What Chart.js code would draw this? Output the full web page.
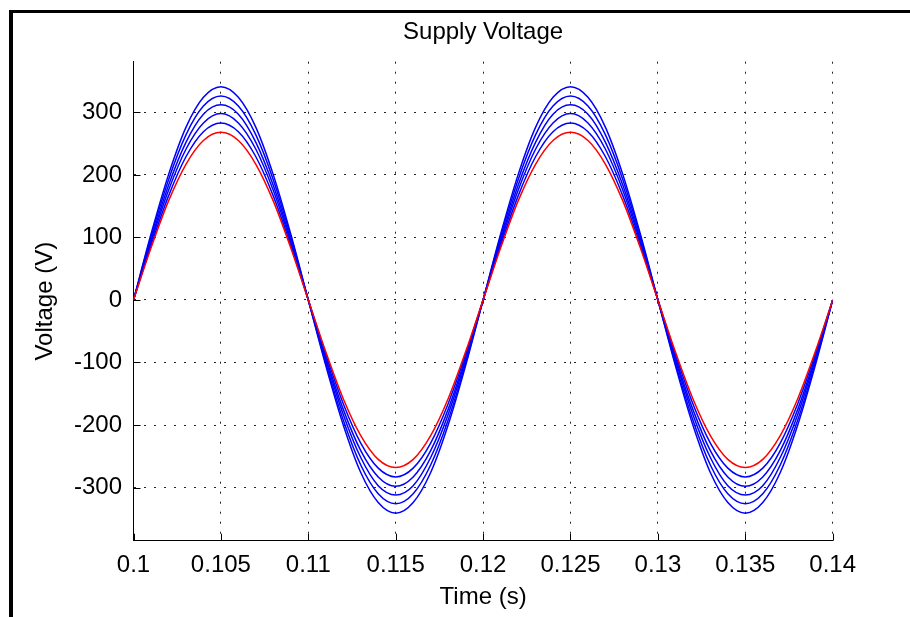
<!DOCTYPE html>
<html>
<head>
<meta charset="utf-8">
<title>Supply Voltage</title>
<script src="https://cdn.jsdelivr.net/npm/chart.js@4/dist/chart.umd.min.js"></script>
<style>
  html, body { margin: 0; padding: 0; background: #fff; }
  #wrap { position: relative; width: 910px; height: 617px; overflow: hidden; }
  #frame { position: absolute; left: 9px; top: 10px; right: 0; bottom: -10px;
           border-left: 4px solid #000; border-top: 3px solid #000; }
  #chart { position: absolute; left: 0; top: 0; }
</style>
</head>
<body>
<div id="wrap">
  <div id="frame"></div>
  <canvas id="chart" width="910" height="617"></canvas>
</div>
<script>
// time samples (s)
const timeS = [0.100, 0.101, 0.102, 0.103, 0.104, 0.105, 0.106, 0.107, 0.108, 0.109,
               0.110, 0.111, 0.112, 0.113, 0.114, 0.115, 0.116, 0.117, 0.118, 0.119,
               0.120, 0.121, 0.122, 0.123, 0.124, 0.125, 0.126, 0.127, 0.128, 0.129,
               0.130, 0.131, 0.132, 0.133, 0.134, 0.135, 0.136, 0.137, 0.138, 0.139, 0.140];

// supply voltages (V)
const vRed = [0, 83, 158, 217, 255, 268, 255, 217, 158, 83, 0, -83, -158, -217, -255, -268, -255, -217, -158, -83,
              0, 83, 158, 217, 255, 268, 255, 217, 158, 83, 0, -83, -158, -217, -255, -268, -255, -217, -158, -83, 0];
const vBlue1 = [0, 87, 166, 229, 269, 283, 269, 229, 166, 87, 0, -87, -166, -229, -269, -283, -269, -229, -166, -87,
                0, 87, 166, 229, 269, 283, 269, 229, 166, 87, 0, -87, -166, -229, -269, -283, -269, -229, -166, -87, 0];
const vBlue2 = [0, 92, 175, 241, 283, 298, 283, 241, 175, 92, 0, -92, -175, -241, -283, -298, -283, -241, -175, -92,
                0, 92, 175, 241, 283, 298, 283, 241, 175, 92, 0, -92, -175, -241, -283, -298, -283, -241, -175, -92, 0];
const vBlue3 = [0, 96, 183, 252, 297, 312, 297, 252, 183, 96, 0, -96, -183, -252, -297, -312, -297, -252, -183, -96,
                0, 96, 183, 252, 297, 312, 297, 252, 183, 96, 0, -96, -183, -252, -297, -312, -297, -252, -183, -96, 0];
const vBlue4 = [0, 101, 192, 264, 310, 326, 310, 264, 192, 101, 0, -101, -192, -264, -310, -326, -310, -264, -192, -101,
                0, 101, 192, 264, 310, 326, 310, 264, 192, 101, 0, -101, -192, -264, -310, -326, -310, -264, -192, -101, 0];
const vBlue5 = [0, 105, 200, 276, 324, 341, 324, 276, 200, 105, 0, -105, -200, -276, -324, -341, -324, -276, -200, -105,
                0, 105, 200, 276, 324, 341, 324, 276, 200, 105, 0, -105, -200, -276, -324, -341, -324, -276, -200, -105, 0];

const blueSeries = [vBlue1, vBlue2, vBlue3, vBlue4, vBlue5];

const fontFam = '"Liberation Sans", Arial, sans-serif';
const font24 = { family: fontFam, size: 24, lineHeight: 1.2 };

function toPoints(vals) {
  return vals.map((v, i) => ({ x: timeS[i], y: v }));
}

const datasets = [{
  data: toPoints(vRed),
  borderColor: '#ff0000',
  borderWidth: 1.5,
  pointRadius: 0,
  cubicInterpolationMode: 'monotone',
  order: 0
}];
blueSeries.forEach((vals, i) => {
  datasets.push({
    data: toPoints(vals),
    borderColor: '#0000ff',
    borderWidth: 1.5,
    pointRadius: 0,
    cubicInterpolationMode: 'monotone',
    order: i + 1
  });
});

// small ticks pointing into the plot, like the original figure
const innerTicks = {
  id: 'innerTicks',
  afterDraw(chart) {
    const { ctx, chartArea, scales } = chart;
    ctx.save();
    ctx.strokeStyle = '#000';
    ctx.lineWidth = 1;
    ctx.beginPath();
    scales.x.ticks.forEach(t => {
      const px = Math.round(scales.x.getPixelForValue(t.value)) + 0.5;
      ctx.moveTo(px, chartArea.bottom);
      ctx.lineTo(px, chartArea.bottom - 7);
    });
    scales.y.ticks.forEach(t => {
      const py = Math.round(scales.y.getPixelForValue(t.value)) + 0.5;
      ctx.moveTo(chartArea.left, py);
      ctx.lineTo(chartArea.left + 7, py);
    });
    ctx.stroke();
    ctx.restore();
  }
};

new Chart(document.getElementById('chart'), {
  type: 'line',
  data: { datasets: datasets },
  options: {
    responsive: false,
    animation: false,
    devicePixelRatio: 1,
    layout: { padding: { left: 14, right: 77.3, top: 17.6, bottom: 0 } },
    plugins: {
      legend: { display: false },
      tooltip: { enabled: false },
      title: {
        display: true,
        text: 'Supply Voltage',
        color: '#000',
        font: { family: fontFam, size: 24, weight: 'normal', lineHeight: 1.2 },
        padding: { top: 0, bottom: 15.3 },
        fullSize: false
      }
    },
    scales: {
      x: {
        type: 'linear',
        min: 0.1,
        max: 0.14,
        afterFit(s) { s.height = 76.3; },
        ticks: {
          stepSize: 0.005,
          includeBounds: false,
          autoSkip: false,
          maxRotation: 0,
          padding: 10,
          color: '#000',
          font: font24,
          callback: v => String(Number(v.toFixed(3)))
        },
        grid: { color: '#222', lineWidth: 1, drawTicks: false },
        border: { display: true, color: '#000', width: 1, dash: [2, 8] },
        title: {
          display: true,
          text: 'Time (s)',
          color: '#000',
          font: font24,
          padding: { top: 0, bottom: 5.6 }
        }
      },
      y: {
        min: -385,
        max: 381,
        afterFit(s) { s.width = 119.5; },
        ticks: {
          stepSize: 100,
          includeBounds: false,
          padding: 11.5,
          color: '#000',
          font: font24
        },
        grid: { color: '#222', lineWidth: 1, drawTicks: false },
        border: { display: true, color: '#000', width: 1, dash: [2, 8] },
        title: {
          display: true,
          text: 'Voltage (V)',
          color: '#000',
          font: font24,
          padding: { top: 16.6, bottom: 0 }
        }
      }
    }
  },
  plugins: [innerTicks]
});
</script>
</body>
</html>
